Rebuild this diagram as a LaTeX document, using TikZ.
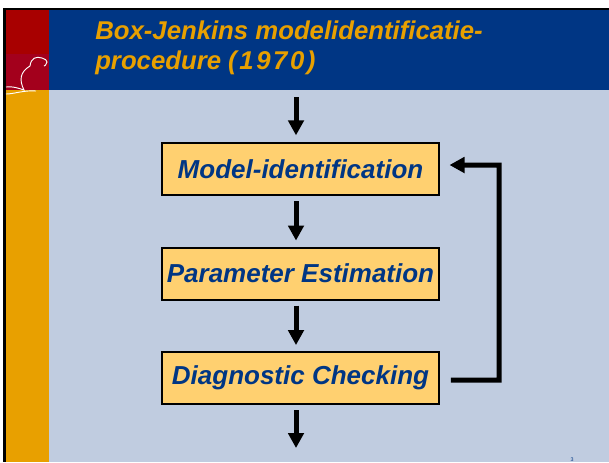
\documentclass[tikz,border=0pt]{standalone}
\usepackage{fontspec}
\setmainfont{Liberation Sans}
\usepackage{tikz}
\usetikzlibrary{positioning,arrows.meta}
\definecolor{SlideBlue}{HTML}{003684}
\definecolor{SlideRed}{HTML}{A80000}
\definecolor{BeaverRed}{HTML}{A3001C}
\definecolor{SlideOrange}{HTML}{E8A000}
\definecolor{SlideGrey}{HTML}{C0CCE0}
\definecolor{BoxYellow}{HTML}{FFD070}

\begin{document}
\begin{tikzpicture}[x=0.75pt, y=-0.75pt,
                      stepbox/.style={draw=black, line width=1.5pt, fill=BoxYellow, text=SlideBlue,
                                      minimum width=208pt, minimum height=39pt, inner sep=0pt,
                                      font=\fontsize{19.5}{24}\bfseries\itshape\selectfont},
                      flow/.style={draw=black, line width=3.75pt, -{Triangle[length=11.25pt,width=11.5pt]},
                                   shorten <=3.75pt, shorten >=4.5pt},
                      back/.style={draw=black, line width=3.75pt, -{Triangle[length=11.25pt,width=11.5pt]},
                                   shorten <=8pt, shorten >=7pt, line join=miter}]
  \useasboundingbox (0,0) rectangle (609,462);
  % slide background
  \fill[white] (0,0) rectangle (609,462);
  \fill[black] (3,8) rectangle (609,462);
  \fill[SlideGrey] (6,10) rectangle (609,462);
  \fill[SlideBlue] (49,10) rectangle (609,90);
  \fill[SlideRed] (6,10) rectangle (49,54);
  \fill[BeaverRed] (6,54) rectangle (49,90);
  \fill[SlideOrange] (6,90) rectangle (49,462);
  % beaver
  \draw[white, line width=0.7pt] (6,87) .. controls (12,86) and (18,88) .. (24,90)
    .. controls (19,80) and (20,72) .. (30,66) .. controls (31,58) and (36,56) .. (42,58)
    .. controls (45,59) and (47,60) .. (47,62) .. controls (46,65) and (45,66) .. (44,66);
  \draw[white, line width=0.7pt] (6,94) .. controls (14,94) and (24,90) .. (36,91);
  \node[text=SlideOrange, anchor=north west, align=left, inner sep=0pt, text depth=0pt,
        font=\fontsize{19.3}{22.5}\bfseries\itshape\selectfont] (title) at (95,21)
        {Box-Jenkins modelidentificatie-\\procedure {\addfontfeature{LetterSpace=10}(1970)}};

  \node[stepbox] (identify) at (300.5,169) {Model-identification};
  \node[stepbox, below=37.9pt of identify] (estimate) {Parameter Estimation};
  \node[stepbox, below=37.9pt of estimate] (check) {Diagnostic Checking};
  \node[text=SlideBlue, font=\fontsize{4}{4}\selectfont, inner sep=0pt] (page) at (572,459.5) {3};

  \coordinate (start) at (296,97);
  \coordinate (finish) at (296,448);
  \coordinate (corner) at (499,380);
  \draw[flow, shorten <=0pt, shorten >=5pt] (start) -- (start |- identify.north);
  \draw[flow] (identify.south -| start) -- (estimate.north -| start);
  \draw[flow] (estimate.south -| start) -- (check.north -| start);
  \draw[flow, shorten >=0pt] (check.south -| start) -- (finish);
  \draw[back] ([yshift=-1.5pt]check.east) -- (corner) |- ([yshift=3pt]identify.east);
\end{tikzpicture}
\end{document}
